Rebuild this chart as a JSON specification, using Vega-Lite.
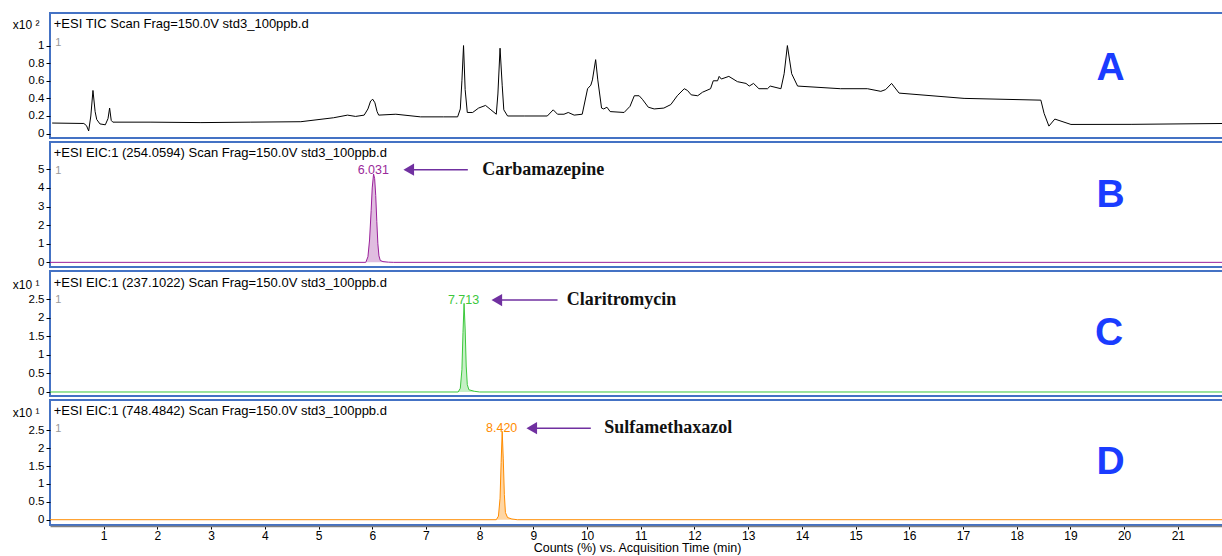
{
  "$schema": "https://vega.github.io/schema/vega-lite/v6.json",
  "padding": {"left": 11, "top": 12, "right": 0, "bottom": 0},
  "background": "white",
  "bounds": "flush",
  "config": {
    "font": "Liberation Sans",
    "view": {"stroke": "#4472c4", "strokeWidth": 2},
    "axis": {"grid": false, "labelFontSize": 11.5, "labelColor": "#000", "tickColor": "#000", "tickSize": 4, "labelPadding": 2, "domain": false, "titleFontWeight": "normal", "titleFontSize": 12, "titleColor": "#000", "labelFont": "Liberation Sans", "titleFont": "Liberation Sans"},
    "concat": {"spacing": 4}
  },
  "resolve": {"scale": {"x": "independent", "y": "independent"}},
  "vconcat": [
    {
      "width": 1174, "height": 125,
      "encoding": {
        "x": {"field": "t", "type": "quantitative", "scale": {"domain": [0, 21.86], "nice": false, "zero": false}, "axis": null},
        "y": {"field": "v", "type": "quantitative", "scale": {"domain": [-0.05, 1.37], "nice": false, "zero": false},
              "axis": {"values": [0, 0.2, 0.4, 0.6, 0.8, 1], "format": "~g", "title": "x10 ²", "titleAngle": 0, "titleAlign": "right", "titleBaseline": "middle", "titleX": -11, "titleY": 11}}
      },
      "layer": [
        {
          "data": {"values": [
            {"t":0.04,"v":0.12},{"t":0.63,"v":0.115},{"t":0.68,"v":0.09},{"t":0.72,"v":0.03},{"t":0.76,"v":0.2},{"t":0.80,"v":0.49},{"t":0.84,"v":0.25},{"t":0.87,"v":0.16},{"t":0.93,"v":0.11},{"t":1.03,"v":0.10},{"t":1.08,"v":0.17},{"t":1.11,"v":0.29},{"t":1.14,"v":0.15},{"t":1.17,"v":0.13},{"t":1.88,"v":0.13},{"t":2.81,"v":0.125},{"t":3.74,"v":0.13},{"t":4.67,"v":0.135},{"t":5.28,"v":0.18},{"t":5.54,"v":0.21},{"t":5.69,"v":0.195},{"t":5.85,"v":0.21},{"t":5.92,"v":0.28},{"t":5.97,"v":0.37},{"t":6.01,"v":0.39},{"t":6.05,"v":0.35},{"t":6.09,"v":0.25},{"t":6.12,"v":0.21},{"t":6.44,"v":0.22},{"t":6.90,"v":0.19},{"t":7.33,"v":0.19},{"t":7.59,"v":0.19},{"t":7.64,"v":0.28},{"t":7.67,"v":0.6},{"t":7.70,"v":1.0},{"t":7.73,"v":0.5},{"t":7.77,"v":0.24},{"t":7.87,"v":0.24},{"t":7.98,"v":0.29},{"t":8.11,"v":0.32},{"t":8.21,"v":0.27},{"t":8.31,"v":0.22},{"t":8.34,"v":0.45},{"t":8.38,"v":0.97},{"t":8.42,"v":0.55},{"t":8.45,"v":0.27},{"t":8.52,"v":0.20},{"t":8.83,"v":0.20},{"t":9.26,"v":0.20},{"t":9.37,"v":0.27},{"t":9.45,"v":0.22},{"t":9.57,"v":0.22},{"t":9.65,"v":0.24},{"t":9.76,"v":0.21},{"t":9.91,"v":0.22},{"t":10.01,"v":0.51},{"t":10.07,"v":0.55},{"t":10.10,"v":0.61},{"t":10.16,"v":0.84},{"t":10.20,"v":0.61},{"t":10.27,"v":0.29},{"t":10.31,"v":0.28},{"t":10.37,"v":0.30},{"t":10.43,"v":0.25},{"t":10.69,"v":0.24},{"t":10.80,"v":0.31},{"t":10.88,"v":0.43},{"t":10.97,"v":0.43},{"t":11.03,"v":0.39},{"t":11.14,"v":0.30},{"t":11.25,"v":0.28},{"t":11.43,"v":0.29},{"t":11.56,"v":0.33},{"t":11.68,"v":0.43},{"t":11.81,"v":0.51},{"t":11.87,"v":0.49},{"t":11.94,"v":0.44},{"t":12.06,"v":0.43},{"t":12.15,"v":0.47},{"t":12.30,"v":0.51},{"t":12.35,"v":0.60},{"t":12.43,"v":0.60},{"t":12.46,"v":0.65},{"t":12.50,"v":0.62},{"t":12.64,"v":0.65},{"t":12.80,"v":0.59},{"t":12.96,"v":0.57},{"t":13.02,"v":0.54},{"t":13.10,"v":0.57},{"t":13.20,"v":0.51},{"t":13.36,"v":0.51},{"t":13.41,"v":0.54},{"t":13.61,"v":0.51},{"t":13.67,"v":0.68},{"t":13.73,"v":1.0},{"t":13.81,"v":0.68},{"t":13.92,"v":0.54},{"t":14.72,"v":0.51},{"t":15.22,"v":0.51},{"t":15.47,"v":0.48},{"t":15.56,"v":0.50},{"t":15.67,"v":0.57},{"t":15.81,"v":0.46},{"t":17.02,"v":0.40},{"t":18.45,"v":0.38},{"t":18.51,"v":0.23},{"t":18.60,"v":0.085},{"t":18.71,"v":0.165},{"t":19.01,"v":0.104},{"t":20.13,"v":0.105},{"t":21.86,"v":0.115}
          ]},
          "mark": {"type": "line", "color": "#000000", "strokeWidth": 1, "clip": true}
        },
        {
          "data": {"values": [{"t": 0.07, "v": 1.24, "label": "+ESI TIC Scan Frag=150.0V std3_100ppb.d"}]},
          "mark": {"type": "text", "align": "left", "baseline": "middle", "fontSize": 13, "color": "#000"},
          "encoding": {"text": {"field": "label"}}
        },
        {
          "data": {"values": [{"t": 0.1, "v": 1.025, "label": "1"}]},
          "mark": {"type": "text", "align": "left", "baseline": "middle", "fontSize": 11, "color": "#999"},
          "encoding": {"text": {"field": "label"}}
        },
        {
          "data": {"values": [{"t": 19.75, "v": 0.744, "label": "A"}]},
          "mark": {"type": "text", "align": "center", "baseline": "middle", "fontSize": 39, "fontWeight": "bold", "color": "#1a3cff"},
          "encoding": {"text": {"field": "label"}}
        }
      ]
    },
    {
      "width": 1174, "height": 125,
      "encoding": {
        "x": {"field": "t", "type": "quantitative", "scale": {"domain": [0, 21.86], "nice": false, "zero": false}, "axis": null},
        "y": {"field": "v", "type": "quantitative", "scale": {"domain": [-0.25, 6.47], "nice": false, "zero": false},
              "axis": {"values": [0, 1, 2, 3, 4, 5], "format": "~g", "title": null}}
      },
      "layer": [
        {
          "data": {"name": "eicB", "values": [
            {"t":0.0,"v":0},{"t":5.88,"v":0},{"t":5.92,"v":0.3},{"t":5.95,"v":1.2},{"t":5.98,"v":2.8},{"t":6.00,"v":4.0},{"t":6.025,"v":4.75},{"t":6.045,"v":4.5},{"t":6.065,"v":3.6},{"t":6.085,"v":2.2},{"t":6.105,"v":1.0},{"t":6.125,"v":0.35},{"t":6.15,"v":0.1},{"t":6.2,"v":0.04},{"t":6.3,"v":0.01},{"t":6.4,"v":0},{"t":21.86,"v":0}
          ]},
          "mark": {"type": "area", "color": "#e0bde0", "clip": true},
          "encoding": {"y2": {"datum": 0}}
        },
        {
          "data": {"name": "eicB"},
          "mark": {"type": "line", "color": "#9a1f9a", "strokeWidth": 1, "clip": true}
        },
        {
          "data": {"values": [{"t": 0.07, "v": 5.89, "label": "+ESI EIC:1 (254.0594) Scan Frag=150.0V std3_100ppb.d"}]},
          "mark": {"type": "text", "align": "left", "baseline": "middle", "fontSize": 13, "color": "#000"},
          "encoding": {"text": {"field": "label"}}
        },
        {
          "data": {"values": [{"t": 0.1, "v": 4.92, "label": "1"}]},
          "mark": {"type": "text", "align": "left", "baseline": "middle", "fontSize": 11, "color": "#999"},
          "encoding": {"text": {"field": "label"}}
        },
        {
          "data": {"values": [{"t": 6.02, "v": 4.95, "label": "6.031"}]},
          "mark": {"type": "text", "align": "center", "baseline": "middle", "fontSize": 12.5, "color": "#9a2a9a"},
          "encoding": {"text": {"field": "label"}}
        },
        {
          "data": {"values": [{"t": 6.7, "t2": 7.78, "v": 4.98}]},
          "mark": {"type": "rule", "color": "#7030a0", "strokeWidth": 1.5},
          "encoding": {"x2": {"field": "t2"}}
        },
        {
          "data": {"values": [{"t": 6.68, "v": 4.98}]},
          "mark": {"type": "point", "shape": "triangle-left", "filled": true, "size": 150, "color": "#7030a0", "opacity": 1}
        },
        {
          "data": {"values": [{"t": 8.05, "v": 4.98, "label": "Carbamazepine"}]},
          "mark": {"type": "text", "align": "left", "baseline": "middle", "font": "Liberation Serif", "fontSize": 18, "fontWeight": "bold", "color": "#111"},
          "encoding": {"text": {"field": "label"}}
        },
        {
          "data": {"values": [{"t": 19.75, "v": 3.62, "label": "B"}]},
          "mark": {"type": "text", "align": "center", "baseline": "middle", "fontSize": 39, "fontWeight": "bold", "color": "#1a3cff"},
          "encoding": {"text": {"field": "label"}}
        }
      ]
    },
    {
      "width": 1174, "height": 125,
      "encoding": {
        "x": {"field": "t", "type": "quantitative", "scale": {"domain": [0, 21.86], "nice": false, "zero": false}, "axis": null},
        "y": {"field": "v", "type": "quantitative", "scale": {"domain": [-0.108, 3.263], "nice": false, "zero": false},
              "axis": {"values": [0, 0.5, 1, 1.5, 2, 2.5], "format": "~g", "title": "x10 ¹", "titleAngle": 0, "titleAlign": "right", "titleBaseline": "middle", "titleX": -11, "titleY": 13}}
      },
      "layer": [
        {
          "data": {"name": "eicC", "values": [
            {"t":0.0,"v":0},{"t":7.60,"v":0},{"t":7.64,"v":0.1},{"t":7.67,"v":0.6},{"t":7.69,"v":1.6},{"t":7.71,"v":2.39},{"t":7.73,"v":1.7},{"t":7.75,"v":0.7},{"t":7.77,"v":0.2},{"t":7.80,"v":0.06},{"t":7.9,"v":0.02},{"t":8.0,"v":0},{"t":21.86,"v":0}
          ]},
          "mark": {"type": "area", "color": "#c6f0c6", "clip": true},
          "encoding": {"y2": {"datum": 0}}
        },
        {
          "data": {"name": "eicC"},
          "mark": {"type": "line", "color": "#3cc83c", "strokeWidth": 1, "clip": true}
        },
        {
          "data": {"values": [{"t": 0.07, "v": 2.95, "label": "+ESI EIC:1 (237.1022) Scan Frag=150.0V std3_100ppb.d"}]},
          "mark": {"type": "text", "align": "left", "baseline": "middle", "fontSize": 13, "color": "#000"},
          "encoding": {"text": {"field": "label"}}
        },
        {
          "data": {"values": [{"t": 0.1, "v": 2.49, "label": "1"}]},
          "mark": {"type": "text", "align": "left", "baseline": "middle", "fontSize": 11, "color": "#999"},
          "encoding": {"text": {"field": "label"}}
        },
        {
          "data": {"values": [{"t": 7.70, "v": 2.49, "label": "7.713"}]},
          "mark": {"type": "text", "align": "center", "baseline": "middle", "fontSize": 12.5, "color": "#3cc83c"},
          "encoding": {"text": {"field": "label"}}
        },
        {
          "data": {"values": [{"t": 8.34, "t2": 9.45, "v": 2.48}]},
          "mark": {"type": "rule", "color": "#7030a0", "strokeWidth": 1.5},
          "encoding": {"x2": {"field": "t2"}}
        },
        {
          "data": {"values": [{"t": 8.32, "v": 2.48}]},
          "mark": {"type": "point", "shape": "triangle-left", "filled": true, "size": 150, "color": "#7030a0", "opacity": 1}
        },
        {
          "data": {"values": [{"t": 9.62, "v": 2.48, "label": "Claritromycin"}]},
          "mark": {"type": "text", "align": "left", "baseline": "middle", "font": "Liberation Serif", "fontSize": 18, "fontWeight": "bold", "color": "#111"},
          "encoding": {"text": {"field": "label"}}
        },
        {
          "data": {"values": [{"t": 19.72, "v": 1.59, "label": "C"}]},
          "mark": {"type": "text", "align": "center", "baseline": "middle", "fontSize": 39, "fontWeight": "bold", "color": "#1a3cff"},
          "encoding": {"text": {"field": "label"}}
        }
      ]
    },
    {
      "width": 1174, "height": 125,
      "encoding": {
        "x": {"field": "t", "type": "quantitative", "scale": {"domain": [0, 21.86], "nice": false, "zero": false},
              "axis": {"values": [1,2,3,4,5,6,7,8,9,10,11,12,13,14,15,16,17,18,19,20,21], "title": "Counts (%) vs. Acquisition Time (min)", "domain": true, "domainColor": "#808080", "domainWidth": 1.5, "offset": 1, "tickSize": 3, "labelPadding": 1, "labelFontSize": 12, "titlePadding": 0, "titleFontSize": 12.5}},
        "y": {"field": "v", "type": "quantitative", "scale": {"domain": [-0.148, 3.347], "nice": false, "zero": false},
              "axis": {"values": [0, 0.5, 1, 1.5, 2, 2.5], "format": "~g", "title": "x10 ¹", "titleAngle": 0, "titleAlign": "right", "titleBaseline": "middle", "titleX": -11, "titleY": 12}}
      },
      "layer": [
        {
          "data": {"name": "eicD", "values": [
            {"t":0.0,"v":0},{"t":8.31,"v":0},{"t":8.35,"v":0.1},{"t":8.38,"v":0.6},{"t":8.40,"v":1.6},{"t":8.42,"v":2.47},{"t":8.44,"v":1.7},{"t":8.46,"v":0.7},{"t":8.48,"v":0.2},{"t":8.52,"v":0.06},{"t":8.6,"v":0.02},{"t":8.7,"v":0},{"t":21.86,"v":0}
          ]},
          "mark": {"type": "area", "color": "#ffd6a3", "clip": true},
          "encoding": {"y2": {"datum": 0}}
        },
        {
          "data": {"name": "eicD"},
          "mark": {"type": "line", "color": "#ff8c00", "strokeWidth": 1, "clip": true}
        },
        {
          "data": {"values": [{"t": 0.07, "v": 3.05, "label": "+ESI EIC:1 (748.4842) Scan Frag=150.0V std3_100ppb.d"}]},
          "mark": {"type": "text", "align": "left", "baseline": "middle", "fontSize": 13, "color": "#000"},
          "encoding": {"text": {"field": "label"}}
        },
        {
          "data": {"values": [{"t": 0.1, "v": 2.54, "label": "1"}]},
          "mark": {"type": "text", "align": "left", "baseline": "middle", "fontSize": 11, "color": "#999"},
          "encoding": {"text": {"field": "label"}}
        },
        {
          "data": {"values": [{"t": 8.41, "v": 2.57, "label": "8.420"}]},
          "mark": {"type": "text", "align": "center", "baseline": "middle", "fontSize": 12.5, "color": "#ff8c00"},
          "encoding": {"text": {"field": "label"}}
        },
        {
          "data": {"values": [{"t": 8.99, "t2": 10.07, "v": 2.56}]},
          "mark": {"type": "rule", "color": "#7030a0", "strokeWidth": 1.5},
          "encoding": {"x2": {"field": "t2"}}
        },
        {
          "data": {"values": [{"t": 8.97, "v": 2.56}]},
          "mark": {"type": "point", "shape": "triangle-left", "filled": true, "size": 150, "color": "#7030a0", "opacity": 1}
        },
        {
          "data": {"values": [{"t": 10.32, "v": 2.56, "label": "Sulfamethaxazol"}]},
          "mark": {"type": "text", "align": "left", "baseline": "middle", "font": "Liberation Serif", "fontSize": 18, "fontWeight": "bold", "color": "#111"},
          "encoding": {"text": {"field": "label"}}
        },
        {
          "data": {"values": [{"t": 19.75, "v": 1.61, "label": "D"}]},
          "mark": {"type": "text", "align": "center", "baseline": "middle", "fontSize": 39, "fontWeight": "bold", "color": "#1a3cff"},
          "encoding": {"text": {"field": "label"}}
        }
      ]
    }
  ]
}
